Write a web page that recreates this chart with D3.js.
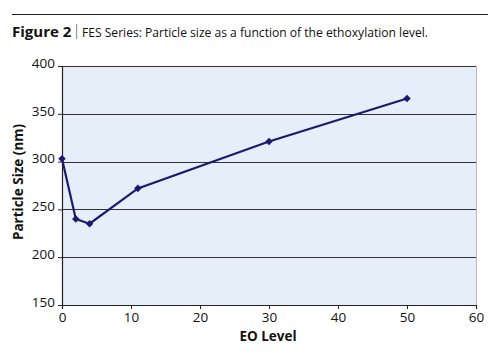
<!DOCTYPE html>
<html><head><meta charset="utf-8">
<script src="https://cdn.jsdelivr.net/npm/d3@7"></script>
<style>body{margin:0;background:#fff}svg{display:block}</style>
</head><body>
<svg id="c" width="500" height="361"></svg>
<script>
const eoLevel = [0, 2, 4, 11, 30, 50];
const particleSize = [303, 240, 235, 272, 321, 366];
const xTicks = [0, 10, 20, 30, 40, 50, 60];
const yTicks = [150, 200, 250, 300, 350, 400];

const svg = d3.select("#c");
const font = "'Open Sans', sans-serif";
const m = {l: 62, r: 476, t: 66, b: 305};
const x = d3.scaleLinear().domain([0, 60]).range([m.l, m.r]);
const y = d3.scaleLinear().domain([150, 400]).range([m.b, m.t]);

// header rule and title
svg.append("line").attr("x1", 12).attr("x2", 488).attr("y1", 14.5).attr("y2", 14.5)
  .attr("stroke", "#222").attr("stroke-width", 1.2);
svg.append("text").attr("x", 12).attr("y", 36.5).attr("font-family", font)
  .attr("font-size", 15).attr("font-weight", "bold").attr("fill", "#111").text("Figure 2");
svg.append("rect").attr("x", 76).attr("y", 24).attr("width", 1.2).attr("height", 15).attr("fill", "#999");
svg.append("text").attr("x", 82).attr("y", 36.5).attr("font-family", font)
  .attr("font-size", 13.5).attr("fill", "#111")
  .attr("textLength", 346).attr("lengthAdjust", "spacingAndGlyphs")
  .text("FES Series: Particle size as a function of the ethoxylation level.");

// plot background
svg.append("rect").attr("x", m.l).attr("y", m.t).attr("width", m.r - m.l).attr("height", m.b - m.t)
  .attr("fill", "#e6eef9");
svg.append("line").attr("x1", m.r + 0.5).attr("x2", m.r + 0.5).attr("y1", m.t).attr("y2", m.b)
  .attr("stroke", "#bbb").attr("stroke-width", 1);

// gridlines
svg.append("g").selectAll("line").data(yTicks.filter(v => v > 150)).join("line")
  .attr("x1", m.l).attr("x2", m.r).attr("y1", d => Math.round(y(d)) + 0.5).attr("y2", d => Math.round(y(d)) + 0.5)
  .attr("stroke", "#333").attr("stroke-width", 1.1);

// axes
const yAxis = svg.append("g").attr("transform", `translate(${m.l},0)`)
  .call(d3.axisLeft(y).tickValues(yTicks).tickSize(4).tickPadding(3));
const xAxis = svg.append("g").attr("transform", `translate(0,${m.b})`)
  .call(d3.axisBottom(x).tickValues(xTicks).tickSize(4).tickPadding(3));
[yAxis, xAxis].forEach(g => {
  g.select(".domain").attr("stroke", "#222").attr("stroke-width", 1.2);
  g.selectAll(".tick line").attr("stroke", "#222");
  g.selectAll(".tick text").attr("font-family", font).attr("font-size", 13.5).attr("fill", "#111");
});
yAxis.selectAll(".tick text").attr("dy", "0.1em");

// line
svg.append("path").datum(eoLevel.map((v, i) => [v, particleSize[i]]))
  .attr("d", d3.line().x(d => x(d[0])).y(d => y(d[1])))
  .attr("fill", "none").attr("stroke", "#1b1b6b").attr("stroke-width", 2.2);
svg.append("g").selectAll("path").data(eoLevel.map((v, i) => [v, particleSize[i]])).join("path")
  .attr("transform", d => `translate(${x(d[0])},${y(d[1])})`)
  .attr("d", d3.symbol(d3.symbolDiamond2, 36))
  .attr("fill", "#1b1b6b");

// axis titles
svg.append("text").attr("x", 268).attr("y", 341).attr("text-anchor", "middle")
  .attr("font-family", font).attr("font-weight", "bold").attr("font-size", 13.5).attr("fill", "#111")
  .text("EO Level");
svg.append("text").attr("transform", "translate(23,182) rotate(-90)").attr("text-anchor", "middle")
  .attr("font-family", font).attr("font-weight", "bold").attr("font-size", 13.5).attr("fill", "#111")
  .text("Particle Size (nm)");
</script>
</body></html>
